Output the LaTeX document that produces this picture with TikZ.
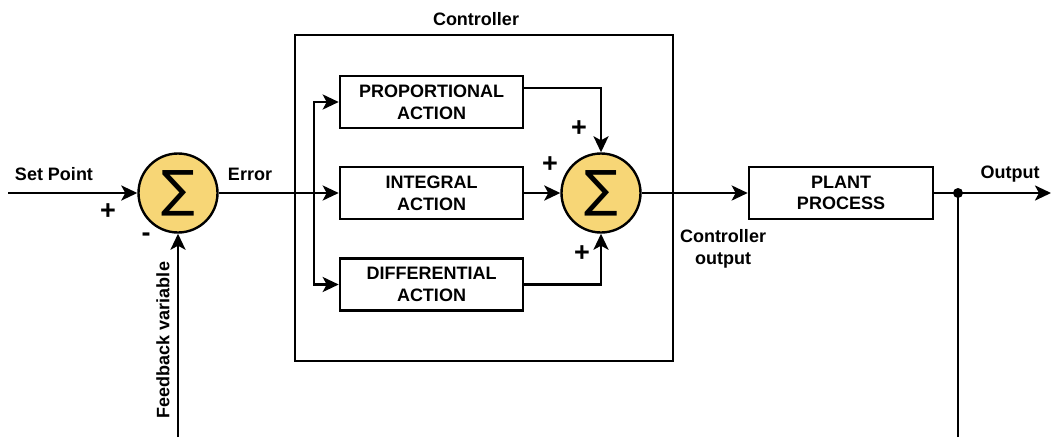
\documentclass[tikz,border=0pt]{standalone}
\usepackage{fontspec}
\setmainfont{Liberation Sans}
\newfontfamily\symfont{DejaVu Sans}
\usetikzlibrary{arrows.meta}
\definecolor{sumyellow}{RGB}{247,214,118}
\begin{document}
\begin{tikzpicture}[x=1pt,y=-1pt,
  every node/.style={font=\fontsize{18}{21.6}\selectfont\bfseries},
  wire/.style={line width=2.6pt,draw=black},
  arr/.style={wire,-{Stealth[length=16pt,width=15pt,inset=4pt]}},
  blk/.style={draw,line width=2.6pt,minimum width=183pt,minimum height=52pt,align=center,inner sep=0pt},
  sumc/.style={circle,draw,line width=2.4pt,fill=sumyellow,minimum size=79pt,inner sep=0pt,
    font=\symfont\fontsize{50}{50}\selectfont},
  lbl/.style={inner sep=0pt,align=center},
  sgn/.style={inner sep=0pt,font=\fontsize{27}{27}\selectfont\bfseries}]
\useasboundingbox (0,0) rectangle (1052,437);
% frame of controller
\node[draw,line width=2.6pt,minimum width=378pt,minimum height=326pt,inner sep=0pt] (ctrl) at (484,198) {};
\node[lbl] (ctrllbl) at (476,19) {Controller};
% nodes
\node[sumc] (s1) at (178,193) {∑};
\node[blk] (pb) at (431.5,102) {PROPORTIONAL\\ACTION};
\node[blk] (ib) at (431.5,193) {INTEGRAL\\ACTION};
\node[blk] (db) at (431.5,284.5) {DIFFERENTIAL\\ACTION};
\node[sumc] (s2) at (601,193) {∑};
\node[blk,minimum width=184pt] (plant) at (841,193) {PLANT\\PROCESS};
\coordinate (sp) at (8,193);
\coordinate (split) at (314,193);
\coordinate (fb1) at (178,437);
\coordinate (fb2) at (958,437);
\coordinate (dot) at (958,193);
\coordinate (out) at (1051,193);
% connectors
\draw[arr] (sp) -- (s1.west);
\draw[arr] (fb1) -- (s1.south);
\draw[arr] (s1.east) -- (ib.west);
\draw[arr] (split) |- (pb.west);
\draw[arr] (split) |- (db.west);
\draw[arr] (ib.east) -- (s2.west);
\draw[arr] ([yshift=14pt]pb.east) -| (s2.north);
\draw[arr] (db.east) -| (s2.south);
\draw[arr] (s2.east) -- (plant.west);
\draw[wire] (plant.east) -- (dot);
\draw[arr] (dot) -- (out);
\draw[wire] (fb2) -- (dot);
\fill (dot) circle (5);
% labels
\node[lbl] (setpt) at (54,174) {Set Point};
\node[sgn] (p1) at (108,212) {+};
\node[sgn] (m1) at (146,237) {-};
\node[lbl] (err) at (250,174) {Error};
\node[lbl,rotate=90] (fbv) at (163,340) {Feedback variable};
\node[sgn] (p2) at (579,129) {+};
\node[sgn] (p3) at (550,165) {+};
\node[sgn] (p4) at (582,254) {+};
\node[lbl] (cout) at (723,249) {Controller\\output};
\node[lbl] (outl) at (1010,174) {Output};
\end{tikzpicture}
\end{document}
